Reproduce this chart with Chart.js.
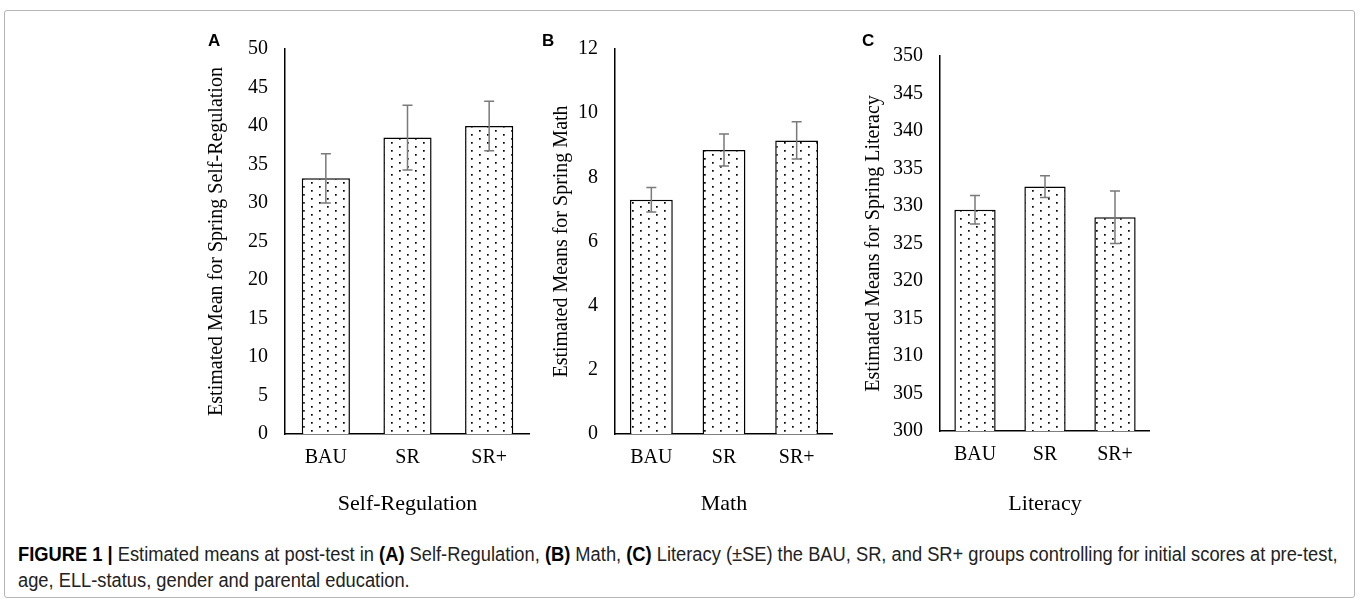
<!DOCTYPE html>
<html>
<head>
<meta charset="utf-8">
<script src="https://cdn.jsdelivr.net/npm/chart.js@4.4.1/dist/chart.umd.min.js"></script>
<style>
  body { margin: 0; background: #fff; width: 1358px; height: 599px; overflow: hidden; position: relative; }
  #frame { position: absolute; left: 4px; top: 10px; width: 1349px; height: 586px; border: 1px solid #b5b5b5; border-radius: 3px; }
  .panel { position: absolute; top: 0; }
  .letter { position: absolute; font: bold 17px "Liberation Sans", Arial, sans-serif; color: #000; }
  #caption { position: absolute; left: 18px; top: 541px; width: 1460px; font: 20px "Liberation Sans", Arial, sans-serif; line-height: 26px; color: #222;
             transform: scaleX(0.915); transform-origin: 0 0; }
  #caption b { color: #000; }
</style>
</head>
<body>
<div id="frame"></div>
<div class="panel" style="left:205px;width:325px;height:517px;"><canvas id="chartA"></canvas></div>
<div class="panel" style="left:550px;width:283px;height:517px;"><canvas id="chartB"></canvas></div>
<div class="panel" style="left:862px;width:288px;height:517px;"><canvas id="chartC"></canvas></div>
<div class="letter" style="left:208px;top:31px;">A</div>
<div class="letter" style="left:542px;top:31px;">B</div>
<div class="letter" style="left:862px;top:31px;">C</div>
<div id="caption"><b>FIGURE 1 |</b> Estimated means at post-test in <b>(A)</b> Self-Regulation, <b>(B)</b> Math, <b>(C)</b> Literacy (±SE) the BAU, SR, and SR+ groups controlling for initial scores at pre-test,<br>age, ELL-status, gender and parental education.</div>
<script>
const groups = ['BAU', 'SR', 'SR+'];

const selfRegMeans = [33.2, 38.5, 40.0];
const selfRegSE = [3.2, 4.2, 3.2];
const selfRegTicks = [0, 50, 5];

const mathMeans = [7.3, 8.85, 9.15];
const mathSE = [0.38, 0.5, 0.58];
const mathTicks = [0, 12, 2];

const literacyMeans = [329.5, 332.6, 328.5];
const literacySE = [1.9, 1.45, 3.5];
const literacyTicks = [300, 350, 5];

const serif = '"Liberation Serif", "Times New Roman", serif';

// dotted fill like the original Excel pattern
function dotPattern() {
    const c = document.createElement('canvas');
    c.width = 16; c.height = 8;
    const g = c.getContext('2d');
    g.fillStyle = '#fff';
    g.fillRect(0, 0, 16, 8);
    g.fillStyle = '#000';
    g.fillRect(2, 2, 1.7, 1.7);
    g.fillRect(10, 6, 1.7, 1.7);
    return g.createPattern(c, 'repeat');
}

const errorBars = {
    id: 'errorBars',
    afterDatasetsDraw(chart, args, opts) {
        const ctx = chart.ctx;
        const meta = chart.getDatasetMeta(0);
        const y = chart.scales.y;
        const vals = chart.data.datasets[0].data;
        ctx.save();
        ctx.strokeStyle = '#7a7a7a';
        ctx.lineWidth = 1.5;
        meta.data.forEach((bar, i) => {
            const top = y.getPixelForValue(vals[i] + opts.se[i]);
            const bot = y.getPixelForValue(vals[i] - opts.se[i]);
            ctx.beginPath();
            ctx.moveTo(bar.x, top); ctx.lineTo(bar.x, bot);
            ctx.moveTo(bar.x - 5, top); ctx.lineTo(bar.x + 5, top);
            ctx.moveTo(bar.x - 5, bot); ctx.lineTo(bar.x + 5, bot);
            ctx.stroke();
        });
        ctx.restore();
    }
};

function makeChart(id, means, se, ticks, yTitle, xTitle, o) {
    new Chart(document.getElementById(id), {
        type: 'bar',
        data: {
            labels: groups,
            datasets: [{
                data: means,
                backgroundColor: dotPattern(),
                borderColor: '#000',
                borderWidth: 1.5,
                categoryPercentage: 1,
                barPercentage: 0.59
            }]
        },
        plugins: [errorBars],
        options: {
            responsive: true,
            maintainAspectRatio: false,
            animation: false,
            layout: { padding: { top: o.top, left: 0, right: 0, bottom: 0 } },
            plugins: {
                legend: { display: false },
                tooltip: { enabled: false },
                errorBars: { se: se }
            },
            scales: {
                x: {
                    grid: { display: false, drawTicks: false },
                    border: { color: '#000', width: 1.5 },
                    ticks: { color: '#000', padding: 12, font: { family: serif, size: 20 } },
                    title: { display: true, text: xTitle, color: '#000', padding: 0, font: { family: serif, size: 22 } },
                    afterFit(s) { s.height = o.xh; s.paddingLeft = 0; s.paddingRight = 0; }
                },
                y: {
                    min: ticks[0],
                    max: ticks[1],
                    grid: { display: false, drawTicks: false },
                    border: { color: '#000', width: 1.5 },
                    ticks: { stepSize: ticks[2], color: '#000', padding: 17, font: { family: serif, size: 20 } },
                    title: { display: true, text: yTitle, color: '#000', padding: 0, font: { family: serif, size: 20 } },
                    afterFit(s) { s.width = o.yw; s.paddingTop = 0; s.paddingBottom = 0; }
                }
            }
        }
    });
}

makeChart('chartA', selfRegMeans, selfRegSE, selfRegTicks,
    'Estimated Mean for Spring Self-Regulation', 'Self-Regulation', { top: 49, xh: 83, yw: 80 });
makeChart('chartB', mathMeans, mathSE, mathTicks,
    'Estimated Means for Spring Math', 'Math', { top: 49, xh: 83, yw: 65 });
makeChart('chartC', literacyMeans, literacySE, literacyTicks,
    'Estimated Means for Spring Literacy', 'Literacy', { top: 56, xh: 86, yw: 78 });
</script>
</body>
</html>
